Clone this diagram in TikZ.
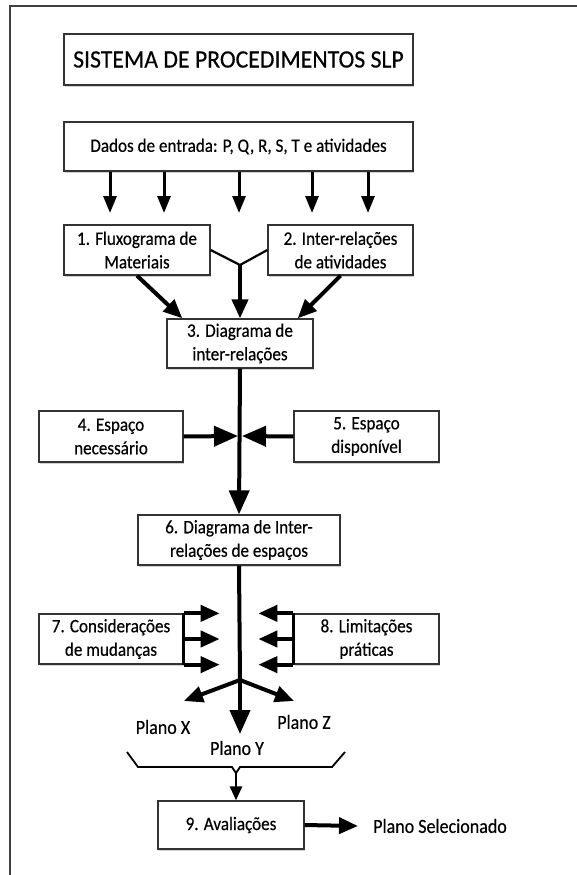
\documentclass[tikz,border=0pt]{standalone}
\usepackage{fontspec}
\setmainfont{Carlito}[FakeStretch=0.9,FakeBold=0.4]
\newfontfamily\titlefont{Carlito}[FakeStretch=0.95,FakeBold=0.4]
\usetikzlibrary{arrows.meta,calc,shadows}
\begin{document}
\begin{tikzpicture}[x=1pt,y=-1pt,
  box/.style={draw=black!80,line width=1.3pt,fill=white,align=center,inner sep=0pt,
    drop shadow={shadow xshift=1.2pt,shadow yshift=-1.5pt,fill=black!30,opacity=0.6},
    font=\fontsize{19}{23.5}\selectfont},
  lbl/.style={font=\fontsize{20}{23}\selectfont,inner sep=0pt},
  smallarr/.style={line width=3pt,-{Triangle[length=17pt,width=13pt]}},
  bigarr/.style={line width=4pt,-{Triangle[length=24pt,width=20pt]}},
  midarr/.style={line width=4pt,-{Triangle[length=19pt,width=16pt]}},
  thinln/.style={line width=2.2pt}]
\useasboundingbox (0,0) rectangle (577,875);
% frame
\draw[black!75,line width=1.5pt] (10,875) -- (10,6) -- (577,6);
% boxes
\node[box,minimum width=349pt,minimum height=51pt,font=\titlefont\fontsize{25}{28}\selectfont] (title) at (238.5,59.5) {SISTEMA DE PROCEDIMENTOS SLP};
\node[box,minimum width=349pt,minimum height=49pt] (dados) at (238.5,146.5) {Dados de entrada: P, Q, R, S, T e atividades};
\node[box,minimum width=146pt,minimum height=50pt] (b1) at (137,250) {1. Fluxograma de\\Materiais};
\node[box,minimum width=145pt,minimum height=50pt] (b2) at (340.5,250) {2. Inter-relações\\de atividades};
\node[box,minimum width=146pt,minimum height=49pt] (b3) at (240,343.5) {3. Diagrama de\\inter-relações};
\node[box,minimum width=144pt,minimum height=51pt] (b4) at (111,436.5) {4. Espaço\\necessário};
\node[box,minimum width=145pt,minimum height=51pt] (b5) at (366.5,436.5) {5. Espaço\\disponível};
\node[box,minimum width=202pt,minimum height=50pt] (b6) at (239,540) {6. Diagrama de Inter-\\relações de espaços};
\node[box,minimum width=144pt,minimum height=50pt] (b7) at (111,639) {7. Considerações\\de mudanças};
\node[box,minimum width=145pt,minimum height=50pt] (b8) at (366.5,639) {8. Limitações\\práticas};
\node[box,minimum width=146pt,minimum height=48pt] (b9) at (231,825) {9. Avaliações};
% labels
\node[lbl] (px) at (163,727) {Plano X};
\node[lbl] (py) at (237,748) {Plano Y};
\node[lbl] (pz) at (304,722) {Plano Z};
\node[lbl,anchor=west] (psel) at (373,826) {Plano Selecionado};
% input arrows
\foreach \i/\x in {1/110,2/164,3/239,4/312,5/368}{
  \coordinate (a\i) at (\x,213);
  \draw[smallarr] (dados.south -| a\i) -- (a\i);
}
% merge of 1 and 2 into 3
\coordinate (yj) at (240,265);
\draw[thinln] (b1.east) -- (yj) -- (b2.west);
\draw[midarr] (yj) -- (b3.north);
\draw[midarr] (b1.south) -- ($(b3.north west)+(16,0)$);
\draw[midarr] (b2.south) -- ($(b3.north east)+(-16,0)$);
% 3 -> 6 with space inputs
\coordinate (cj) at (240,436);
\draw[bigarr] (b3.south) -- (b6.north);
\draw[bigarr] (b4.east) -- ($(cj)+(-2,0)$);
\draw[bigarr] (b5.west) -- ($(cj)+(2,0)$);
% 6 -> plans
\coordinate (bj) at (240,680);
\coordinate (pxa) at (184,701);
\coordinate (pya) at (240,734);
\coordinate (pza) at (294,701);
\draw[line width=4pt] (b6.south) -- (bj);
\draw[bigarr] (bj) -- (pya);
\draw[midarr] (bj) -- (pxa);
\draw[midarr] (bj) -- (pza);
% considerations and limitations
\draw[line width=3pt] (b7.north east) -- (b7.south east);
\draw[line width=3pt] (b8.north west) -- (b8.south west);
\draw[midarr] (b7.north east) -- ++(36,0);
\draw[midarr] (b7.east) -- ++(36,0);
\draw[midarr] (b7.south east) -- ++(36,0);
\draw[midarr] (b8.north west) -- ++(-35,0);
\draw[midarr] (b8.west) -- ++(-35,0);
\draw[midarr] (b8.south west) -- ++(-35,0);
% brace over the plans
\coordinate (br) at (236,773);
\draw[line width=1.8pt] (127,752) -- (138,767) -- (232,767) -- (br) -- (240,767) -- (332,767) -- (345,752);
\draw[line width=2.5pt,-{Triangle[length=14pt,width=12pt]}] (br) -- (br |- b9.north);
% selected plan
\coordinate (sel) at (358,826);
\draw[midarr] (b9.east) -- (sel);
\end{tikzpicture}
\end{document}
